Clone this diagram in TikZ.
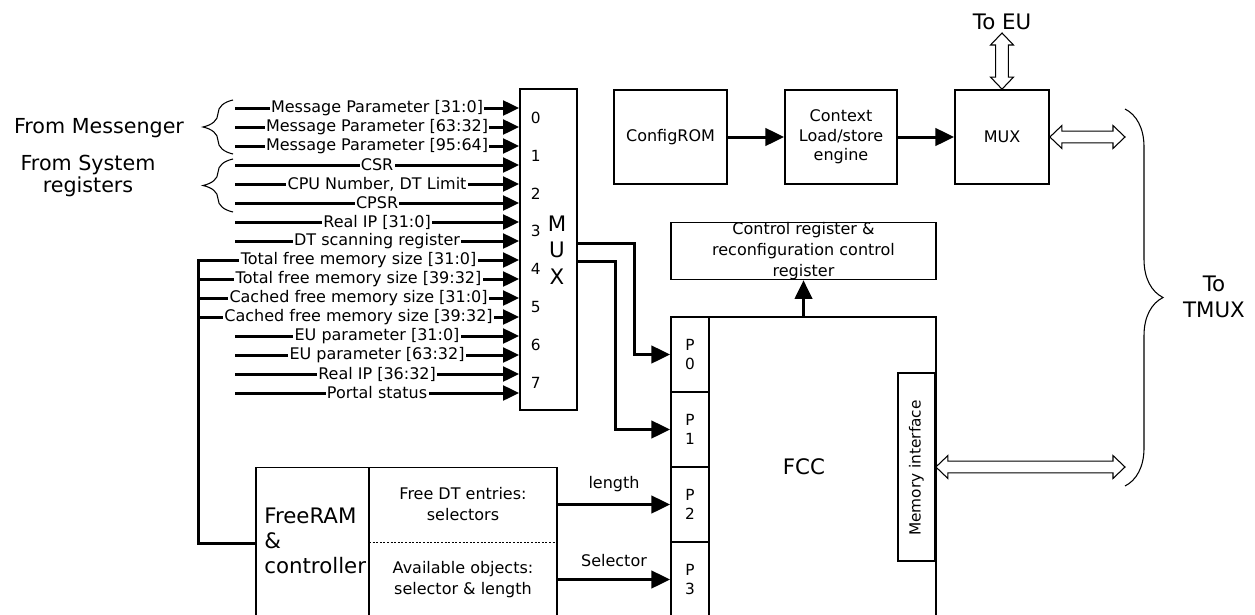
\documentclass[tikz,border=0pt]{standalone}
\usepackage{fontspec}
\setmainfont{DejaVu Sans}
\usetikzlibrary{arrows.meta,calc,decorations.pathreplacing}
\newcommand\dblH[2]{%
  \draw[hollow] let \p1=(#1), \p2=(#2) in
    (\x1,\y1) -- (\x1+9pt,\y1+8.6pt) -- (\x1+9pt,\y1+4.4pt) -- (\x2-9pt,\y2+4.4pt)
    -- (\x2-9pt,\y2+8.6pt) -- (\x2,\y2) -- (\x2-9pt,\y2-8.6pt) -- (\x2-9pt,\y2-4.4pt)
    -- (\x1+9pt,\y1-4.4pt) -- (\x1+9pt,\y1-8.6pt) -- cycle;}
\newcommand\dblV[2]{%
  \draw[hollow] let \p1=(#1), \p2=(#2) in
    (\x1,\y1) -- (\x1-8.6pt,\y1-9pt) -- (\x1-4.8pt,\y1-9pt) -- (\x2-4.8pt,\y2+9pt)
    -- (\x2-8.6pt,\y2+9pt) -- (\x2,\y2) -- (\x2+8.6pt,\y2+9pt) -- (\x2+4.8pt,\y2+9pt)
    -- (\x1+4.8pt,\y1-9pt) -- (\x1+8.6pt,\y1-9pt) -- cycle;}
\begin{document}
\begin{tikzpicture}[x=0.75pt,y=-0.75pt,
  box/.style={draw, line width=1.3pt, inner sep=0pt},
  fsm/.style={font=\fontsize{11.5}{14.25}\selectfont},
  fmd/.style={font=\fontsize{12}{14.5}\selectfont},
  fbg/.style={font=\fontsize{16}{20}\selectfont},
  lbl/.style={fill=white, inner xsep=1pt, inner ysep=0pt, fmd},
  inarr/.style={line width=2.25pt, -{Triangle[length=12pt,width=11pt]}},
  bigarr/.style={line width=2.25pt, -{Triangle[length=14pt,width=13pt]}},
  bus/.style={line width=2.25pt, line cap=rect},
  hollow/.style={draw, fill=white, line width=0.8pt},
  brc/.style={decorate, decoration={brace, amplitude=#1}, line width=0.8pt},
]
\useasboundingbox (0,0) rectangle (1255,614);
\clip (0,0) rectangle (1255,614);

% main boxes
\node[box, minimum width=42.75pt, minimum height=240.75pt] (mux) at (548.5,249.5) {};
\node[box, fmd, minimum width=84.75pt, minimum height=70.5pt] (rom) at (670.5,137) {ConfigROM};
\node[box, fmd, align=center, minimum width=84pt, minimum height=70.5pt] (ctx) at (841,137) {Context\\Load/store\\engine};
\node[box, fmd, minimum width=70.5pt, minimum height=70.5pt] (mux2) at (1002,137) {MUX};
\node[box, align=center, font=\fontsize{12}{15.5}\selectfont, minimum width=198.75pt, minimum height=42pt] (ctrl) at (803.5,251) {Control register \&\\reconfiguration control\\register};
\node[box, minimum width=198.75pt, minimum height=287.25pt] (fccbox) at (803.5,508.5) {};
\node[fbg] (fcclbl) at (804,467) {FCC};
\node[box, fsm, align=center, minimum width=28.5pt, minimum height=56.25pt] (p0) at (690,354.5) {P\\0};
\node[box, fsm, align=center, minimum width=28.5pt, minimum height=56.25pt] (p1) at (690,429.5) {P\\1};
\node[box, fsm, align=center, minimum width=28.5pt, minimum height=56.25pt] (p2) at (690,504.5) {P\\2};
\node[box, fsm, align=center, minimum width=28.5pt, minimum height=56.25pt] (p3) at (690,579.5) {P\\3};
\node[box, fill=white, minimum width=27.75pt, minimum height=141pt] (memif) at (916.5,467) {};
\node[rotate=90, font=\fontsize{11.5}{13}\selectfont] (memtxt) at (916.5,468) {Memory interface};
\node[box, minimum width=84.75pt, minimum height=174.375pt] (frL) at (312.5,583.75) {};
\node[box, minimum width=141pt, minimum height=174.375pt] (frR) at (463,583.75) {};
\node[align=left, anchor=west, font=\fontsize{16}{19}\selectfont, inner sep=0pt] (frtxt) at (264,541) {FreeRAM\\\&\\controller};
\node[fmd, align=center, font=\fontsize{12}{15.75}\selectfont] (fdt) at (463,504.5) {Free DT entries:\\selectors};
\node[fmd, align=center, font=\fontsize{12}{15.75}\selectfont] (avo) at (463,580) {Available objects:\\selector \& length};
\coordinate (dl) at (369,542.5);
\coordinate (dr) at (557,542.5);
\draw[line width=1pt, dash pattern=on 1.5pt off 1.2pt] (dl) -- (dr);

% mux labels
\foreach \d in {0,...,7} \node[fsm] (n\d) at (535.7,{118+37.8*\d}) {\d};
\node[fbg, align=center] (muxlbl) at (557,250) {M\\U\\X};

% inputs
\foreach \yy/\xx/\lab [count=\i] in {
  108/235/{Message Parameter [31:0]},
  127/235/{Message Parameter [63:32]},
  146/235/{Message Parameter [95:64]},
  165/235/{CSR},
  184/235/{CPU Number, DT Limit},
  203/235/{CPSR},
  222/235/{Real IP [31:0]},
  241/235/{DT scanning register},
  260/198/{Total free memory size [31:0]},
  279/198/{Total free memory size [39:32]},
  298/198/{Cached free memory size [31:0]},
  317/198/{Cached free memory size [39:32]},
  336/235/{EU parameter [31:0]},
  355/235/{EU parameter [63:32]},
  374/235/{Real IP [36:32]},
  393/235/{Portal status}} {
  \coordinate (s\i) at (\xx,\yy);
  \draw[inarr] (s\i) -- node[lbl] (t\i) {\lab} (s\i -| mux.west);
}
\coordinate (frin) at (frL.west |- 0,543);
\draw[bus] (s9) -- (s9 |- frin) -- (frin);

% braces and side labels
\coordinate (bm1) at (233,154); \coordinate (bm2) at (233,100);
\draw[brc=22.5pt] (bm1) -- (bm2);
\coordinate (bs1) at (233,212); \coordinate (bs2) at (233,159);
\draw[brc=22.5pt] (bs1) -- (bs2);
\coordinate (bt1) at (1125,109); \coordinate (bt2) at (1125,486);
\draw[brc=28.5pt] (bt1) -- (bt2);
\node[font=\fontsize{15.5}{16}\selectfont] (fromM) at (99,128) {From Messenger};
\node[font=\fontsize{15.5}{16}\selectfont, align=center] (fromS) at (88,176) {From System\\registers};
\node[fbg, align=center] (tmux) at (1214,297) {To\\TMUX};
\node[fbg] (toeutxt) at (1002,22) {To EU};

% mux outputs
\coordinate (k1) at (634,243);
\coordinate (k2) at (615,261);
\draw[bigarr] (mux.east |- k1) -- (k1) |- (p0.west);
\draw[bigarr] (mux.east |- k2) -- (k2) |- (p1.west);

% other arrows
\draw[bigarr] (rom) -- (ctx);
\draw[bigarr] (ctx) -- (mux2);
\draw[bigarr] (fccbox.north) -- (ctrl.south);
\draw[bigarr] (frR.east |- p2) -- node[fmd, midway, yshift=15pt] (lenlbl) {length} (p2.west);
\draw[bigarr] (frR.east |- p3) -- node[fmd, midway, yshift=14pt] (sellbl) {Selector} (p3.west);

% hollow double arrows
\coordinate (toeu) at (1002,33);
\coordinate (tm1) at (1125,137);
\coordinate (tm2) at (1125,467);
\dblV{toeu}{mux2.north}
\dblH{mux2.east}{tm1}
\dblH{memif.east}{tm2}
\end{tikzpicture}
\end{document}
